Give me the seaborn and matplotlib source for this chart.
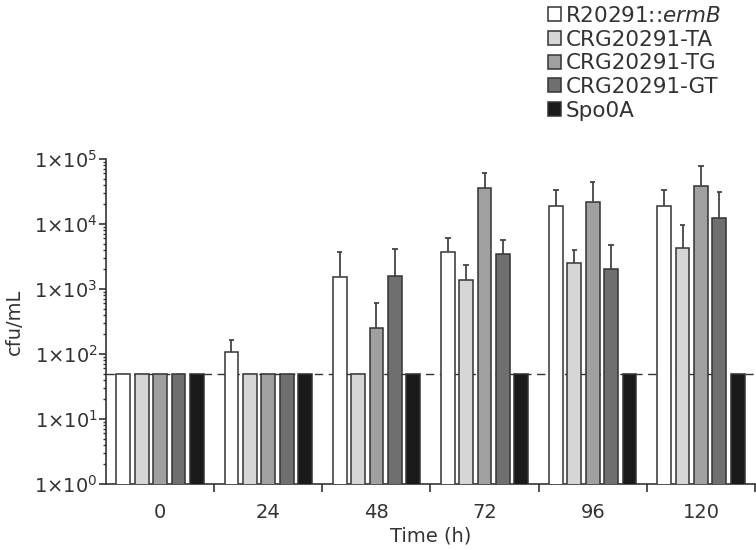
import numpy as np
import pandas as pd
import matplotlib
matplotlib.use("Agg")
import matplotlib.pyplot as plt
import seaborn as sns

# ---- data ----
times = ["0", "24", "48", "72", "96", "120"]
strains = ["R20291::$\\mathit{ermB}$", "CRG20291-TA", "CRG20291-TG", "CRG20291-GT", "Spo0A"]
mean_ermB = [50, 106, 1510, 3750, 19000, 19000]
mean_TA = [50, 50, 50, 1375, 2540, 4320]
mean_TG = [50, 50, 254, 35400, 22000, 38900]
mean_GT = [50, 50, 1585, 3410, 2055, 12200]
mean_spo0A = [50, 50, 50, 50, 50, 50]
upper_ermB = [None, 163, 3750, 6090, 33700, 33700]
upper_TA = [None, None, None, 2310, 3980, 9650]
upper_TG = [None, None, 614, 61700, 44800, 77200]
upper_GT = [None, None, 4125, 5750, 4750, 31000]
upper_spo0A = [None, None, None, None, None, None]
detection_limit = 50
ytick_vals = [1, 10, 100, 1000, 10000, 100000]
ytick_labels = ["$1{\\times}10^{%d}$" % i for i in range(6)]

means = [mean_ermB, mean_TA, mean_TG, mean_GT, mean_spo0A]
uppers = [upper_ermB, upper_TA, upper_TG, upper_GT, upper_spo0A]
colors = ["#ffffff", "#d6d6d6", "#a0a0a0", "#6f6f6f", "#1a1a1a"]

rows = []
for s, m in zip(strains, means):
    for t, v in zip(times, m):
        rows.append({"Time": t, "Strain": s, "cfu": v})
df = pd.DataFrame(rows)

sns.set_theme(style="ticks")
plt.rcParams["font.family"] = ["DejaVu Sans"]
plt.rcParams["mathtext.fontset"] = "dejavusans"

fig = plt.figure(figsize=(7.56, 5.5), dpi=100)
ax = fig.add_axes([106 / 756, 1 - 484 / 550, 649 / 756, 325 / 550])
ax.set_yscale("log")

edge = "#333333"
sns.barplot(data=df, x="Time", y="cfu", hue="Strain", order=times,
            hue_order=strains, palette=colors, edgecolor=edge, linewidth=1.1,
            width=0.85, gap=0.25, errorbar=None, ax=ax, zorder=3, saturation=1)

# error bars (upper only)
for cont, up in zip(ax.containers, uppers):
    for bar, u in zip(cont, up):
        if u is None:
            continue
        xc = bar.get_x() + bar.get_width() / 2
        top = bar.get_height()
        ax.vlines(xc, top, u, color="#444444", lw=1.3, zorder=4)
        ax.hlines(u, xc - 0.025, xc + 0.025, color="#444444", lw=1.3, zorder=4)

ax.axhline(detection_limit, ls=(0, (6, 4)), color="#333333", lw=1.0, zorder=1)

ax.set_ylim(1, 1e5)
ax.set_xlim(-0.5, 5.5)
ax.set_yticks(ytick_vals, labels=ytick_labels)
ax.tick_params(axis="y", which="major", length=5, width=1.2, color="#333333",
               labelsize=14, colors="#333333", pad=1)
ax.tick_params(axis="y", which="minor", length=2.5, width=1.0, color="#333333")
ax.set_xticks(range(len(times)), labels=times)
ax.set_xticks(np.arange(0.5, 6, 1), minor=True)
ax.tick_params(axis="x", which="major", length=0, labelsize=14, colors="#333333", pad=14)
ax.tick_params(axis="x", which="minor", length=6, width=1.2, color="#333333")

for sp in ["top", "right"]:
    ax.spines[sp].set_visible(False)
for sp in ["left", "bottom"]:
    ax.spines[sp].set_linewidth(1.2)
    ax.spines[sp].set_color("#333333")

ax.set_xlabel("Time (h)", fontsize=14, color="#333333", labelpad=3)
ax.set_ylabel("cfu/mL", fontsize=14, color="#333333", labelpad=7)

handles, labels = ax.get_legend_handles_labels()
ax.get_legend().remove()
fig.legend(handles, labels, loc="upper left", bbox_to_anchor=(539 / 756, 1.005),
           frameon=False, fontsize=15.5, handlelength=0.62, handleheight=0.62,
           handletextpad=0.2, labelspacing=0.17, borderaxespad=0, labelcolor="#333333")

fig.savefig("out.png", dpi=100)
